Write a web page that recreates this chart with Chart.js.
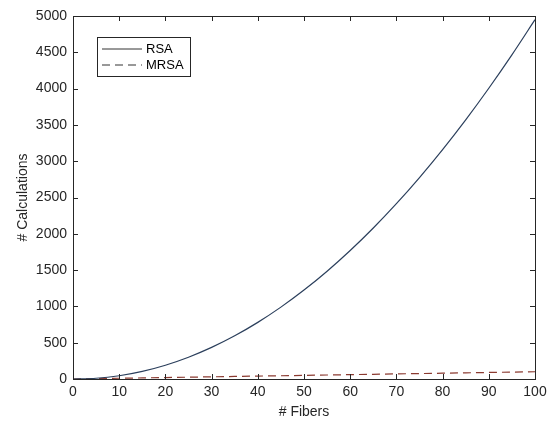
<!DOCTYPE html>
<html>
<head>
<meta charset="utf-8">
<script src="https://cdn.jsdelivr.net/npm/chart.js@4"></script>
<style>
  html, body { margin: 0; padding: 0; background: #fff; }
  #wrap { width: 547px; height: 425px; }
</style>
</head>
<body>
<div id="wrap"><canvas id="grafico"></canvas></div>
<script>
const fibers = [0, 5, 10, 15, 20, 25, 30, 35, 40, 45, 50, 55, 60, 65, 70, 75, 80, 85, 90, 95, 100];
const rsa = [0, 10, 45, 105, 190, 300, 435, 595, 780, 990, 1225, 1485, 1770, 2080, 2415, 2775, 3160, 3570, 4005, 4465, 4950];
const mrsa = [0, 5, 10, 15, 20, 25, 30, 35, 40, 45, 50, 55, 60, 65, 70, 75, 80, 85, 90, 95, 100];
const xTicks = [0, 10, 20, 30, 40, 50, 60, 70, 80, 90, 100];
const yTicks = [0, 500, 1000, 1500, 2000, 2500, 3000, 3500, 4000, 4500, 5000];

const axisColor = '#262626';
const fuente = 'Liberation Sans, Arial, sans-serif';

// MATLAB-style box with inward ticks on all sides
const cajaPlugin = {
  id: 'caja',
  afterDatasetsDraw(chart) {
    const { ctx, chartArea: a, scales } = chart;
    ctx.save();
    ctx.strokeStyle = axisColor;
    ctx.lineWidth = 1;
    ctx.strokeRect(a.left + 0.5, a.top + 0.5, a.right - a.left, a.bottom - a.top);
    const len = 5;
    ctx.beginPath();
    xTicks.forEach(v => {
      const x = Math.round(scales.x.getPixelForValue(v)) + 0.5;
      ctx.moveTo(x, a.bottom); ctx.lineTo(x, a.bottom - len);
      ctx.moveTo(x, a.top); ctx.lineTo(x, a.top + len);
    });
    yTicks.forEach(v => {
      const y = Math.round(scales.y.getPixelForValue(v)) + 0.5;
      ctx.moveTo(a.left, y); ctx.lineTo(a.left + len, y);
      ctx.moveTo(a.right, y); ctx.lineTo(a.right - len, y);
    });
    ctx.stroke();

    // legend box
    const lx = 97, ly = 37, lw = 93, lh = 39;
    ctx.fillStyle = '#fff';
    ctx.fillRect(lx, ly, lw, lh);
    ctx.strokeRect(lx + 0.5, ly + 0.5, lw, lh);
    ctx.font = '13px ' + fuente;
    ctx.textBaseline = 'middle';
    ctx.fillStyle = '#000';
    chart.data.datasets.forEach((ds, i) => {
      const y = ly + 12 + i * 16;
      ctx.beginPath();
      ctx.strokeStyle = '#333';
      ctx.setLineDash(ds.borderDash || []);
      ctx.moveTo(lx + 5, y); ctx.lineTo(lx + 45, y);
      ctx.stroke();
      ctx.setLineDash([]);
      ctx.fillText(ds.label, lx + 49, y);
    });
    ctx.restore();
  }
};

const datos = {
  datasets: [
    {
      label: 'RSA',
      data: fibers.map((f, i) => ({ x: f, y: rsa[i] })),
      borderColor: '#2b3f5c',
      borderWidth: 1.2,
      pointRadius: 0,
      fill: false,
      tension: 0.3
    },
    {
      label: 'MRSA',
      data: fibers.map((f, i) => ({ x: f, y: mrsa[i] })),
      borderColor: '#8b3a30',
      borderWidth: 1.2,
      borderDash: [8, 5],
      pointRadius: 0,
      fill: false,
      tension: 0
    }
  ]
};

const config = {
  type: 'line',
  data: datos,
  options: {
    responsive: true,
    maintainAspectRatio: false,
    animation: false,
    layout: { padding: { top: 16, right: 12, left: 0, bottom: 0 } },
    plugins: { legend: { display: false }, tooltip: { enabled: false } },
    scales: {
      x: {
        type: 'linear',
        min: 0, max: 100,
        afterBuildTicks: s => { s.ticks = xTicks.map(v => ({ value: v })); },
        afterFit: s => { s.height = 46; s.paddingRight = 0; s.paddingLeft = 0; },
        grid: { display: false, drawTicks: false },
        border: { display: false },
        ticks: { color: axisColor, font: { family: fuente, size: 14 }, padding: 5, maxRotation: 0, callback: v => String(v) },
        title: { display: true, text: '# Fibers', color: axisColor, font: { family: fuente, size: 14 }, padding: { top: 0 } }
      },
      y: {
        min: 0, max: 5000,
        afterBuildTicks: s => { s.ticks = yTicks.map(v => ({ value: v })); },
        afterFit: s => { s.width = 73; s.paddingTop = 0; s.paddingBottom = 0; },
        grid: { display: false, drawTicks: false },
        border: { display: false },
        ticks: { color: axisColor, font: { family: fuente, size: 14 }, padding: 6, callback: v => String(v) },
        title: { display: true, text: '# Calculations', color: axisColor, font: { family: fuente, size: 14 }, padding: { top: 15, bottom: 0 } }
      }
    }
  },
  plugins: [cajaPlugin]
};

new Chart(document.querySelector('#grafico'), config);
</script>
</body>
</html>
